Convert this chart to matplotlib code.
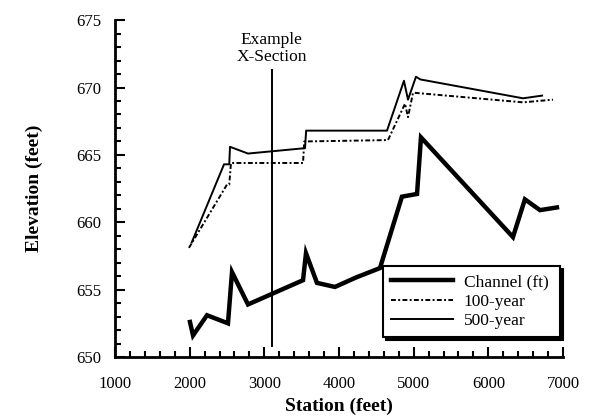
import matplotlib.pyplot as plt
from matplotlib.ticker import MultipleLocator

# channel bed profile
chan_sta = [2004, 2045, 2232, 2513, 2567, 2781, 3518, 3558, 3705, 3946, 4227, 4549,
            4843, 5045, 5098, 6330, 6490, 6692, 6919]
chan_elev = [652.6, 651.6, 653.1, 652.5, 656.3, 653.9, 655.7, 657.7, 655.5, 655.2, 655.9, 656.6,
             661.9, 662.1, 666.3, 658.9, 661.7, 660.9, 661.1]

# 100-year water surface
q100_sta = [1990, 2500, 2530, 2553, 3518, 3535, 3558, 4656, 4884, 4924, 4991, 5030, 6465, 6866]
q100_elev = [658.1, 662.8, 662.8, 664.4, 664.4, 666.0, 666.0, 666.1, 668.8, 667.8, 669.6, 669.6, 668.9, 669.1]

# 500-year water surface
q500_sta = [2027, 2460, 2530, 2540, 2781, 3545, 3560, 4643, 4870, 4924, 5031, 5090, 6465, 6720]
q500_elev = [658.5, 664.3, 664.3, 665.6, 665.1, 665.5, 666.8, 666.8, 670.5, 669.1, 670.8, 670.6, 669.2, 669.4]

xsec_sta = 3100

plt.rcParams['font.family'] = ['Liberation Serif', 'DejaVu Serif']

fig = plt.figure(figsize=(5.91, 4.20), dpi=100)
ax = fig.add_axes([0.1946, 0.15, 0.758, 0.802])

ax.plot(chan_sta, chan_elev, color='black', lw=3.2, solid_joinstyle='miter', label='Channel (ft)')
ax.plot(q100_sta, q100_elev, color='black', lw=1.4, dashes=(2.5, 1.2, 1, 1.2), label='100-year')
ax.plot(q500_sta, q500_elev, color='black', lw=1.4, label='500-year')

ax.plot([xsec_sta, xsec_sta], [650.8, 671.3], color='black', lw=1.4)
ax.text(xsec_sta, 671.7, 'Example\nX-Section', ha='center', va='bottom', fontsize=12.5, linespacing=1.05)

ax.set_xlim(1000, 7000)
ax.set_ylim(650, 675)
ax.xaxis.set_major_locator(MultipleLocator(1000))
ax.xaxis.set_minor_locator(MultipleLocator(200))
ax.yaxis.set_major_locator(MultipleLocator(5))
ax.yaxis.set_minor_locator(MultipleLocator(1))
ax.tick_params(which='both', direction='in', width=1.5, labelsize=12)
ax.tick_params(which='major', length=7)
ax.tick_params(axis='x', which='major', pad=14)
ax.tick_params(axis='y', which='major', pad=10)
ax.tick_params(which='minor', length=4)
ax.spines['top'].set_visible(False)
ax.spines['right'].set_visible(False)
ax.spines['left'].set_linewidth(2)
ax.spines['bottom'].set_linewidth(2)

ax.set_xlabel('Station (feet)', fontsize=14, fontweight='bold', labelpad=4)
ax.set_ylabel('Elevation (feet)', fontsize=14, fontweight='bold', labelpad=24)

leg = ax.legend(loc='lower left', bbox_to_anchor=(0.598, 0.059, 0.395, 0.223), mode='expand',
                borderaxespad=0, fancybox=False, shadow={'color': 'black', 'alpha': 1},
                fontsize=12.5, handlelength=3.6, borderpad=0.45, labelspacing=0.2,
                handletextpad=0.6, framealpha=1)
leg.get_frame().set_edgecolor('black')
leg.get_frame().set_linewidth(1.5)

fig.savefig('out.png', dpi=100)
